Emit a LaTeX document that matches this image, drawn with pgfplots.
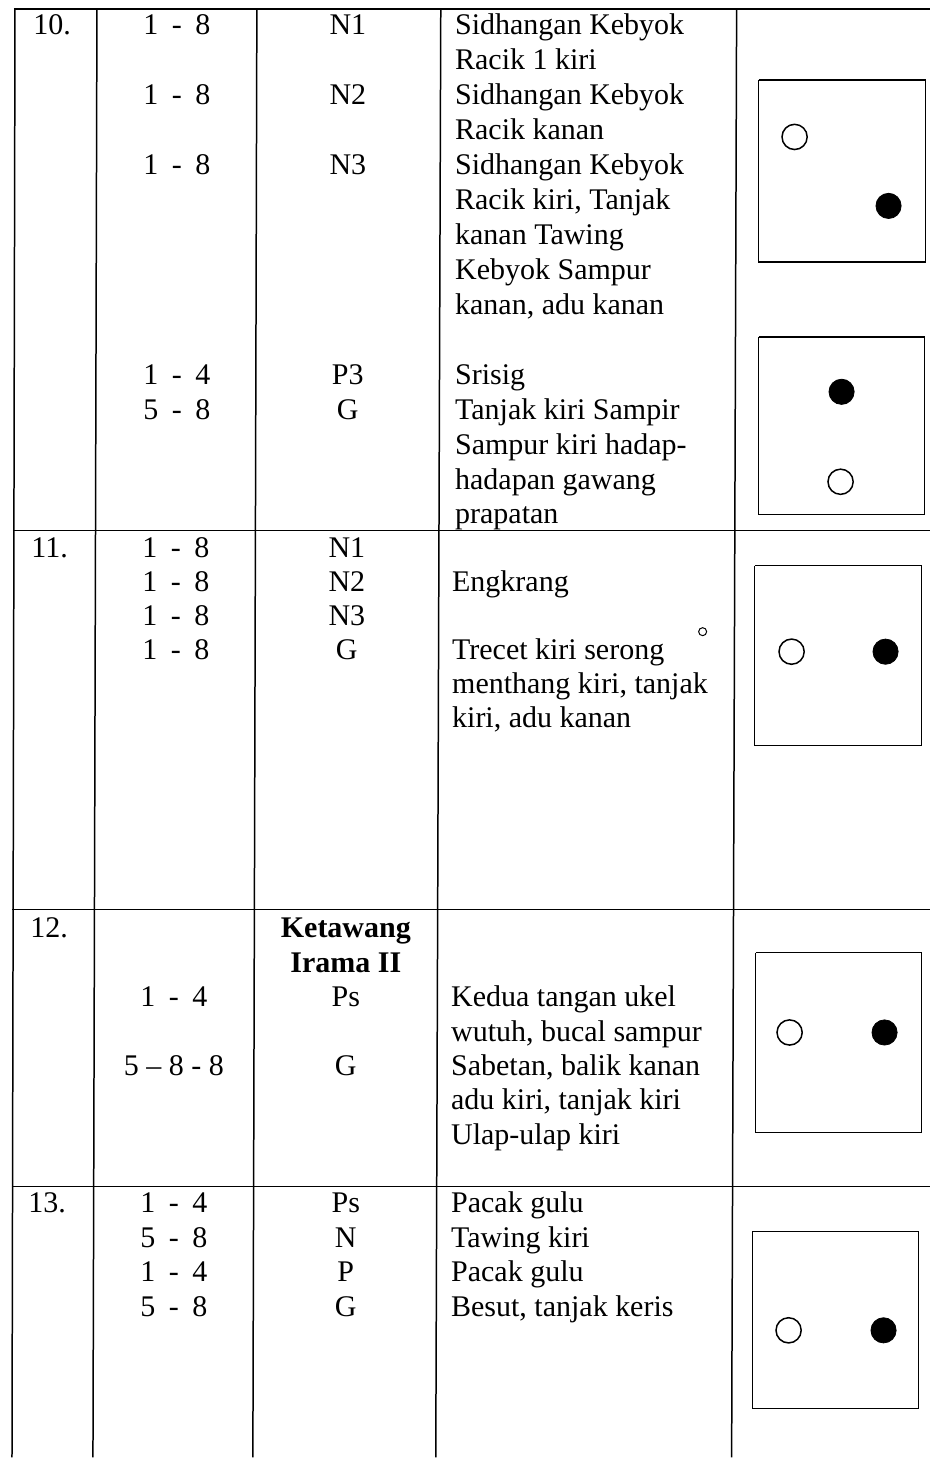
\documentclass[border=0pt]{standalone}
\usepackage{pgfplots}
\pgfplotsset{compat=1.18}
\usepackage{pgfplotstable}
\usepackage{fontspec}
\setmainfont{Liberation Serif}
\newcommand\rg[2]{#1\hspace{0.45em}-\hspace{0.45em}#2}
\tikzset{
  txt/.style={font=\fontsize{15}{17.5}\selectfont, inner sep=0pt, anchor=base west},
  ctr/.style={font=\fontsize{15}{17.5}\selectfont, inner sep=0pt, anchor=base},
  bctr/.style={font=\fontsize{15}{17.5}\selectfont\bfseries, inner sep=0pt, anchor=base},
}
\pgfplotstableread{
x y
795 137
841 482
792 652
790 1033
789 1331
}\opencircles
\pgfplotstableread{
x y
889 206
842 392
886 652
885 1033
884 1331
}\filledcircles
\begin{document}
\begin{tikzpicture}
\begin{axis}[scale only axis, width=465pt, height=729pt,
  xmin=0, xmax=930, ymin=0, ymax=1458, y dir=reverse,
  hide axis, clip=false,
  rule/.style={black, line width=0.75pt, no marks},
  box/.style={black, line width=0.75pt, no marks}]
\path (axis cs:0,0) rectangle (axis cs:930,1458);
% table rules
\addplot[rule, line width=1pt] coordinates {(14,9) (930,9)};
\addplot[rule] coordinates {(13,531) (930,531)};
\addplot[rule] coordinates {(12,910) (930,910)};
\addplot[rule] coordinates {(12,1187) (930,1187)};
\addplot[rule] coordinates {(15,9) (12,1458)};
\addplot[rule] coordinates {(97,9) (93,1458)};
\addplot[rule] coordinates {(257,9) (253,1458)};
\addplot[rule] coordinates {(441,9) (436,1458)};
\addplot[rule] coordinates {(737,9) (732,1458)};
% position boxes
\addplot[box] coordinates {(759,80) (926,80) (926,262) (759,262) (759,80)};
\addplot[box] coordinates {(759,337) (925,337) (925,515) (759,515) (759,337)};
\addplot[box] coordinates {(755,566) (922,566) (922,746) (755,746) (755,566)};
\addplot[box] coordinates {(756,953) (922,953) (922,1133) (756,1133) (756,953)};
\addplot[box] coordinates {(753,1232) (919,1232) (919,1409) (753,1409) (753,1232)};
% dancers
\addplot[only marks, mark=o, mark size=6.3pt, black, mark options={line width=0.75pt, fill=white}] table[x=x,y=y] {\opencircles};
\addplot[only marks, mark=*, mark size=6.3pt, black] table[x=x,y=y] {\filledcircles};
\addplot[only marks, mark=o, mark size=2pt, black, mark options={line width=0.5pt}] coordinates {(703,632)};
% ---- row 10
\node[txt] at (axis cs:33,35) {10.};
\node[ctr] at (axis cs:177,35) {\rg18};
\node[ctr] at (axis cs:177,105) {\rg18};
\node[ctr] at (axis cs:177,175) {\rg18};
\node[ctr] at (axis cs:177,385) {\rg14};
\node[ctr] at (axis cs:177,420) {\rg58};
\node[ctr] at (axis cs:348,35) {N1};
\node[ctr] at (axis cs:348,105) {N2};
\node[ctr] at (axis cs:348,175) {N3};
\node[ctr] at (axis cs:348,385) {P3};
\node[ctr] at (axis cs:348,420) {G};
\node[txt] at (axis cs:455,35) {Sidhangan Kebyok};
\node[txt] at (axis cs:455,70) {Racik 1 kiri};
\node[txt] at (axis cs:455,105) {Sidhangan Kebyok};
\node[txt] at (axis cs:455,140) {Racik kanan};
\node[txt] at (axis cs:455,175) {Sidhangan Kebyok};
\node[txt] at (axis cs:455,210) {Racik kiri, Tanjak};
\node[txt] at (axis cs:455,245) {kanan Tawing};
\node[txt] at (axis cs:455,280) {Kebyok Sampur};
\node[txt] at (axis cs:455,315) {kanan, adu kanan};
\node[txt] at (axis cs:455,385) {Srisig};
\node[txt] at (axis cs:455,420) {Tanjak kiri Sampir};
\node[txt] at (axis cs:455,455) {Sampur kiri hadap-};
\node[txt] at (axis cs:455,490) {hadapan gawang};
\node[txt] at (axis cs:455,524) {prapatan};
% ---- row 11
\node[txt] at (axis cs:31,558) {11.};
\node[ctr] at (axis cs:176,558) {\rg18};
\node[ctr] at (axis cs:176,592) {\rg18};
\node[ctr] at (axis cs:176,626) {\rg18};
\node[ctr] at (axis cs:176,660) {\rg18};
\node[ctr] at (axis cs:347,558) {N1};
\node[ctr] at (axis cs:347,592) {N2};
\node[ctr] at (axis cs:347,626) {N3};
\node[ctr] at (axis cs:347,660) {G};
\node[txt] at (axis cs:452,592) {Engkrang};
\node[txt] at (axis cs:452,660) {Trecet kiri serong};
\node[txt] at (axis cs:452,694) {menthang kiri, tanjak};
\node[txt] at (axis cs:452,728) {kiri, adu kanan};
% ---- row 12
\node[txt] at (axis cs:30,938) {12.};
\node[bctr] at (axis cs:346,938) {Ketawang};
\node[bctr] at (axis cs:346,973) {Irama II};
\node[ctr] at (axis cs:174,1007) {\rg14};
\node[ctr] at (axis cs:174,1076) {5 -- 8 - 8};
\node[ctr] at (axis cs:346,1007) {Ps};
\node[ctr] at (axis cs:346,1076) {G};
\node[txt] at (axis cs:451,1007) {Kedua tangan ukel};
\node[txt] at (axis cs:451,1042) {wutuh, bucal sampur};
\node[txt] at (axis cs:451,1076) {Sabetan, balik kanan};
\node[txt] at (axis cs:451,1110) {adu kiri, tanjak kiri};
\node[txt] at (axis cs:451,1145) {Ulap-ulap kiri};
% ---- row 13
\node[txt] at (axis cs:28,1213) {13.};
\node[ctr] at (axis cs:174,1213) {\rg14};
\node[ctr] at (axis cs:174,1248) {\rg58};
\node[ctr] at (axis cs:174,1282) {\rg14};
\node[ctr] at (axis cs:174,1317) {\rg58};
\node[ctr] at (axis cs:346,1213) {Ps};
\node[ctr] at (axis cs:346,1248) {N};
\node[ctr] at (axis cs:346,1282) {P};
\node[ctr] at (axis cs:346,1317) {G};
\node[txt] at (axis cs:451,1213) {Pacak gulu};
\node[txt] at (axis cs:451,1248) {Tawing kiri};
\node[txt] at (axis cs:451,1282) {Pacak gulu};
\node[txt] at (axis cs:451,1317) {Besut, tanjak keris};
\end{axis}
\end{tikzpicture}
\end{document}
